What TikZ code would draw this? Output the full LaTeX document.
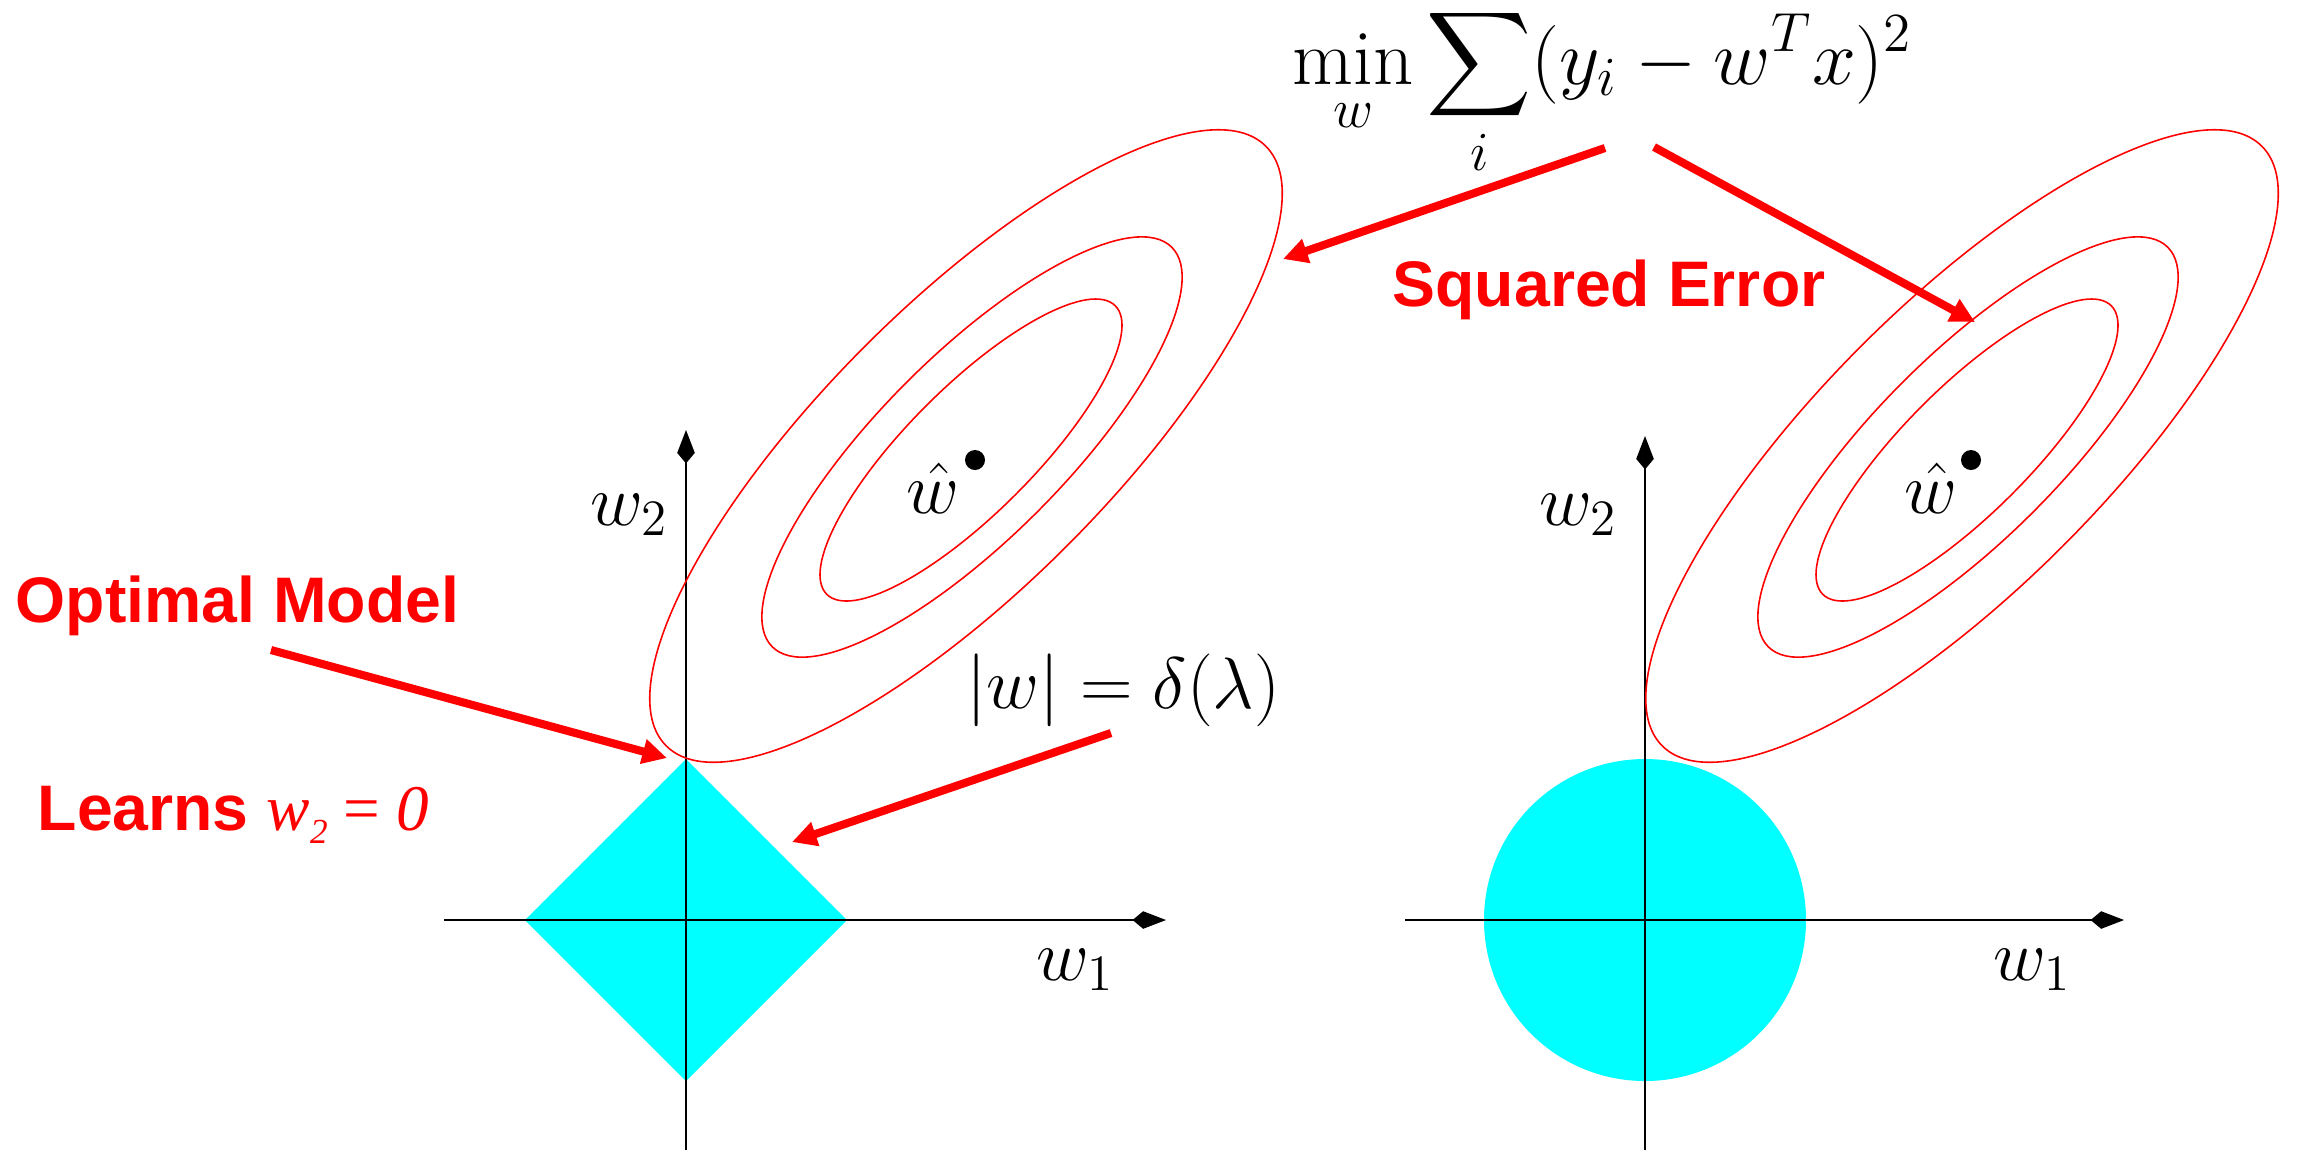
\documentclass[tikz,border=0pt]{standalone}
\usepackage{fix-cm}
\usepackage{exscale}
\usepackage{fontspec}
\newfontfamily\lsans{Liberation Sans}
\newfontfamily\lserif{Liberation Serif}
\usetikzlibrary{arrows.meta}
\definecolor{aqua}{RGB}{0,255,255}
\definecolor{pured}{RGB}{255,0,0}
\begin{document}
\begin{tikzpicture}[x=0.01cm,y=-0.01cm,
  axisline/.style={black, line width=0.4pt, -{Kite[length=9.5pt,width=5pt,inset=3pt]}},
  contour/.style={pured, line width=0.45pt},
  callout/.style={pured, line width=2.3pt, -{Triangle[length=7pt,width=6.8pt]}},
  mathlbl/.style={inner sep=0pt, font=\fontsize{20.7}{25}\selectfont},
  redlbl/.style={inner sep=0pt, text=pured, font=\fontsize{18.3}{22}\selectfont\lsans\bfseries},
  ]
\useasboundingbox (0,0) rectangle (2300,1153);
% constraint regions
\fill[aqua] (686,759) -- (847,920) -- (686,1081) -- (525,920) -- cycle;
\fill[aqua] (1645,920) circle [radius=161];
% axes
\coordinate (lxs) at (444,920);  \coordinate (lxe) at (1166,920);
\coordinate (lys) at (686,1150); \coordinate (lye) at (686,430);
\coordinate (rxs) at (1405,920); \coordinate (rxe) at (2124,920);
\coordinate (rys) at (1645,1150); \coordinate (rye) at (1645,436);
\draw[axisline] (lxs) -- (lxe);
\draw[axisline] (lys) -- (lye);
\draw[axisline] (rxs) -- (rxe);
\draw[axisline] (rys) -- (rye);
% contour ellipses (left)
\draw[contour, shift={(966,446)}, rotate=45] (0,0) ellipse [x radius=424, y radius=142];
\draw[contour, shift={(972,447)}, rotate=45] (0,0) ellipse [x radius=282.5, y radius=92];
\draw[contour, shift={(971,450)}, rotate=45] (0,0) ellipse [x radius=204, y radius=63];
% contour ellipses (right)
\draw[contour, shift={(1962,446)}, rotate=45] (0,0) ellipse [x radius=424, y radius=142];
\draw[contour, shift={(1968,447)}, rotate=45] (0,0) ellipse [x radius=282.5, y radius=92];
\draw[contour, shift={(1967,450)}, rotate=45] (0,0) ellipse [x radius=204, y radius=63];
% optimum dots
\fill[black] (975,460) circle [radius=10];
\fill[black] (1971,460) circle [radius=10];
% math labels
\node[mathlbl, anchor=base west] (whatL) at (906,513) {$\hat{w}$};
\node[mathlbl, anchor=base west] (whatR) at (1904,513) {$\hat{w}$};
\node[mathlbl, anchor=base east] (w2L) at (669,525) {$w_2$};
\node[mathlbl, anchor=base east] (w2R) at (1618,525) {$w_2$};
\node[mathlbl, anchor=base east] (w1L) at (1115,980) {$w_1$};
\node[mathlbl, anchor=base east] (w1R) at (2072,980) {$w_1$};
\node[mathlbl, anchor=base west] (norm) at (966,708) {$|w| = \delta(\lambda)$};
\node[inner sep=0pt, anchor=base west, font=\fontsize{22.4}{27}\selectfont] (loss) at (1292,84)
  {$\displaystyle \min_w \sum_i (y_i - w^T x)^2$};
% red labels
\node[redlbl, anchor=base west] (optimal) at (15,622) {Optimal Model};
\node[redlbl, anchor=base west] (sqerr) at (1392,306) {Squared Error};
\node[redlbl, anchor=base west] (learns) at (37,830)
  {Learns {\mdseries\lserif\fontsize{18.5}{22}\selectfont\itshape w\raisebox{-3.7pt}{\fontsize{10}{12}\selectfont 2} \upshape= \itshape 0}};
% callout arrows
\coordinate (a1s) at (1605,148); \coordinate (a1e) at (1283,259);
\coordinate (a2s) at (1654,147); \coordinate (a2e) at (1975,322);
\coordinate (a3s) at (271,650);  \coordinate (a3e) at (667,758);
\coordinate (a4s) at (1111,733); \coordinate (a4e) at (792,842);
\draw[callout] (a1s) -- (a1e);
\draw[callout] (a2s) -- (a2e);
\draw[callout] (a3s) -- (a3e);
\draw[callout] (a4s) -- (a4e);
\end{tikzpicture}
\end{document}
